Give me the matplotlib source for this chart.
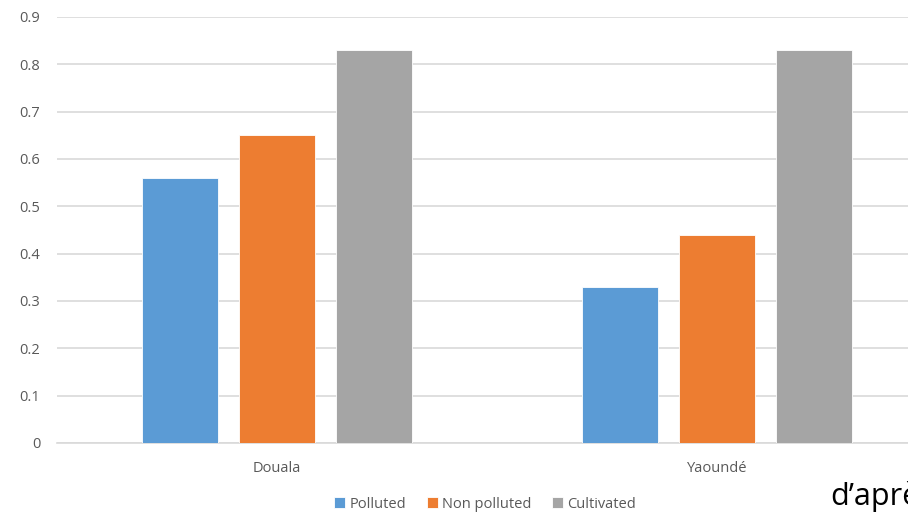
import matplotlib.pyplot as plt
import numpy as np

# Donnees
villes = ['Douala', 'Yaoundé']
series = ['Polluted', 'Non polluted', 'Cultivated']
polluted = [0.56, 0.33]
non_polluted = [0.65, 0.44]
cultivated = [0.83, 0.83]
couleurs = ['#5B9BD5', '#ED7D31', '#A5A5A5']
yticks = [0, 0.1, 0.2, 0.3, 0.4, 0.5, 0.6, 0.7, 0.8, 0.9]

plt.rcParams['font.family'] = ['Open Sans', 'DejaVu Sans']

fig = plt.figure(figsize=(9.08, 5.14), dpi=100)
# l'axe deborde a droite : le graphique d'origine est coupe
ax = fig.add_axes([57/908, 71/514, 880/908, 426/514])

x = np.arange(len(villes))
largeur = 0.173
pas = 0.22
for i, (nom, vals) in enumerate(zip(series, [polluted, non_polluted, cultivated])):
    ax.bar(x + (i - 1) * pas, vals, width=largeur, color=couleurs[i],
           edgecolor='white', linewidth=0.6, label=nom, zorder=3)

ax.set_xlim(-0.5, 1.5)
ax.set_ylim(0, 0.9)
ax.set_yticks(yticks)
ax.set_yticklabels(['0'] + [f'{v:.1f}' for v in yticks[1:]])
ax.set_xticks(x)
ax.set_xticklabels(villes)
ax.tick_params(axis='both', length=0, labelsize=10.5, colors='#595959')
ax.tick_params(axis='y', pad=12)
ax.tick_params(axis='x', pad=13)
for s in ['top', 'right', 'left']:
    ax.spines[s].set_visible(False)
ax.spines['bottom'].set_color('#d9d9d9')
ax.spines['bottom'].set_linewidth(1.2)
ax.grid(axis='y', color='#d9d9d9', linewidth=1.2, zorder=0)

leg = fig.legend(loc='center', bbox_to_anchor=(485/908, 1 - 504/514), ncol=3,
                 frameon=False, fontsize=10.5, handlelength=0.75, handleheight=0.75,
                 handletextpad=0.3, columnspacing=1.4)
for t in leg.get_texts():
    t.set_color('#595959')

# texte coupe au bord droit, comme sur l'original
fig.text(830/908, 1 - 505/514, 'd’après', fontsize=22, color='black',
         va='baseline', ha='left', family=['Open Sans', 'DejaVu Sans'])

plt.savefig('out.png', dpi=100)
